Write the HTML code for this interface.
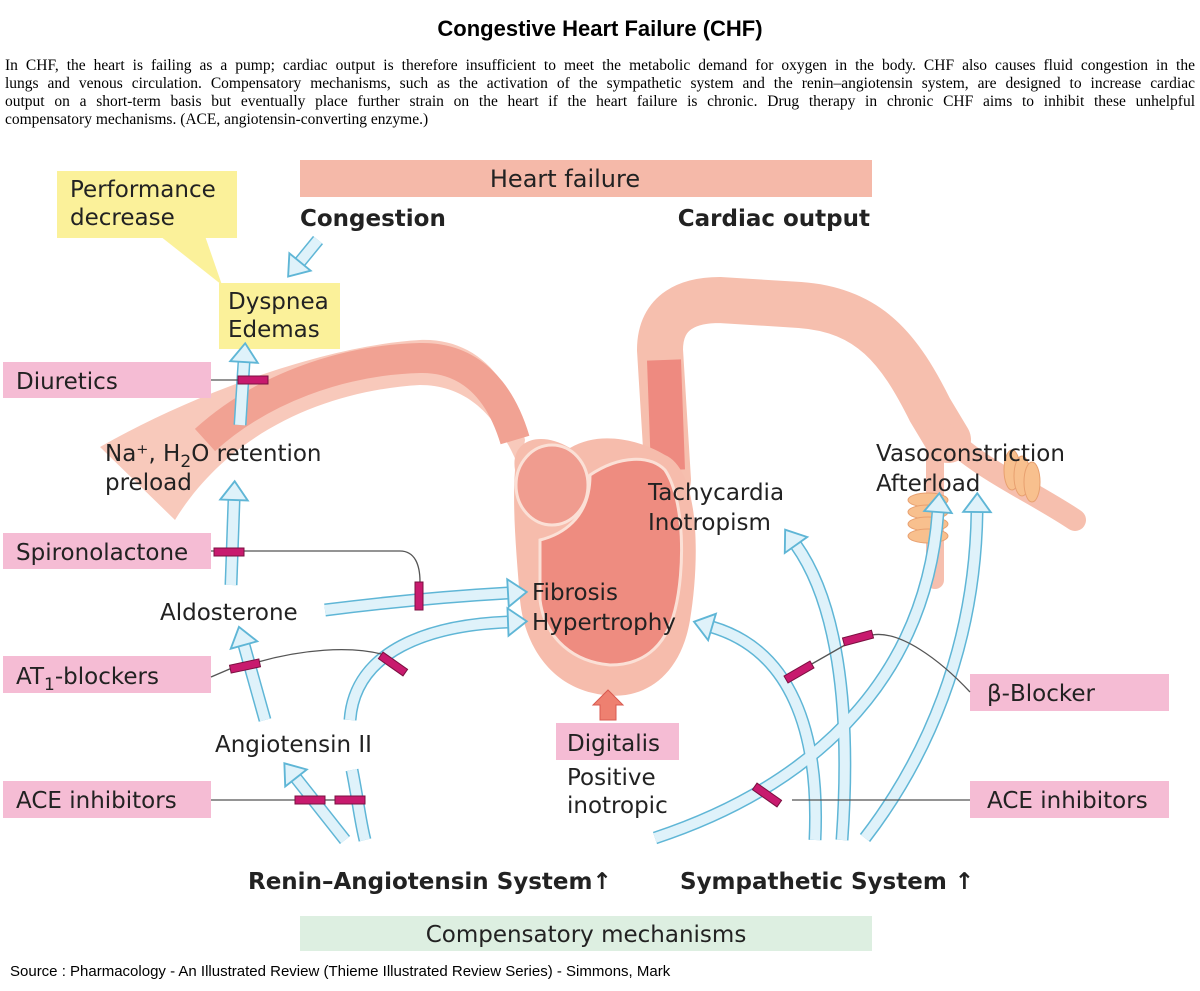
<!DOCTYPE html>
<html><head><meta charset="utf-8"><style>
body{margin:0;background:#fff;width:1200px;height:991px;overflow:hidden;position:relative}
h1{position:absolute;top:16px;left:0;width:1200px;text-align:center;margin:0;font:bold 22px "Liberation Sans",sans-serif}
div.d{position:absolute;top:57px;left:5px;width:1190px;margin:0;font:15.5px/18px "Liberation Serif",serif;white-space:nowrap}
div.d span{display:block;text-align:justify;text-align-last:justify}
div.d span.l{text-align-last:left}
.src{position:absolute;top:963px;left:10px;font:15px "Liberation Sans",sans-serif}
svg{position:absolute;top:0;left:0}
svg text{font-family:"DejaVu Sans","Liberation Sans",sans-serif;font-size:23px;fill:#222}
</style></head><body>
<h1>Congestive Heart Failure (CHF)</h1>
<div class="d"><span>In CHF, the heart is failing as a pump; cardiac output is therefore insufficient to meet the metabolic demand for oxygen in the body. CHF also causes fluid congestion in the</span><span>lungs and venous circulation. Compensatory mechanisms, such as the activation of the sympathetic system and the renin–angiotensin system, are designed to increase cardiac</span><span>output on a short-term basis but eventually place further strain on the heart if the heart failure is chronic. Drug therapy in chronic CHF aims to inhibit these unhelpful</span><span class="l">compensatory mechanisms. (ACE, angiotensin-converting enzyme.)</span></div>
<svg width="1200" height="991" viewBox="0 0 1200 991">
<defs>
<marker id="ah" markerUnits="userSpaceOnUse" markerWidth="30" markerHeight="30" refX="0" refY="0" orient="auto" viewBox="-2 -12 20 24" overflow="visible">
<path d="M0,-11 L15,0 L0,11 Z" fill="#dff2fa" stroke="#5fb6d6" stroke-width="1.5"/>
</marker>
</defs>
<rect x="300" y="160" width="572" height="37" fill="#f5b9a9"/>
<text x="565" y="187" text-anchor="middle" style="font-size:24px">Heart failure</text>
<text x="300" y="226" style="font-weight:bold;font-size:23px">Congestion</text>
<text x="870" y="226" text-anchor="end" style="font-weight:bold;font-size:23px">Cardiac output</text>
<polygon points="160,236 205,236 222,285" fill="#fbf19a"/>
<rect x="57" y="171" width="180" height="67" fill="#fbf19a"/>
<text x="70" y="197">Performance</text><text x="70" y="225">decrease</text>
<rect x="219" y="283" width="121" height="66" fill="#fbf19a"/>
<text x="228" y="309">Dyspnea</text><text x="228" y="337">Edemas</text>
<path d="M100,447 C200,390 330,345 420,340 C470,338 510,370 525,440 L520,470 C500,420 470,385 420,385 C330,390 230,430 175,520 Z" fill="#f8c9bb"/>
<path d="M205,440 C260,390 340,360 420,358 C470,357 500,390 515,440" fill="none" stroke="#f1a293" stroke-width="30"/>
<path d="M668,480 L660,350 C660,310 690,300 720,300 L800,305 C870,310 900,350 930,410 L948,440" fill="none" stroke="#f6bfae" stroke-width="46" stroke-linecap="round"/>
<path d="M940,430 C980,470 1030,490 1075,520" fill="none" stroke="#f6bfae" stroke-width="22" stroke-linecap="round"/>
<path d="M935,430 C935,480 935,540 935,580" fill="none" stroke="#f6bfae" stroke-width="18" stroke-linecap="round"/>
<path d="M668,470 L664,360" fill="none" stroke="#ee8a80" stroke-width="34"/>
<path d="M515,470 C510,440 540,430 570,448 C600,430 640,440 665,455 C700,470 700,560 690,620 C680,680 640,700 605,695 C555,690 525,650 520,600 C517,560 512,510 515,470 Z" fill="#f6bcac"/>
<ellipse cx="552" cy="485" rx="36" ry="40" fill="#f09c8f" stroke="#fbe0d6" stroke-width="3"/>
<path d="M590,475 C620,455 650,455 665,470 C685,500 685,570 675,610 C665,650 640,665 610,665 C575,662 545,640 540,600 L540,540 C560,535 590,520 590,475 Z" fill="#ee8c80" stroke="#fbe0d6" stroke-width="3"/>
<g fill="#f8c08e" stroke="#e8a070" stroke-width="1">
<ellipse cx="928" cy="500" rx="20" ry="7"/><ellipse cx="928" cy="512" rx="20" ry="7"/><ellipse cx="928" cy="524" rx="20" ry="7"/><ellipse cx="928" cy="536" rx="20" ry="7"/>
<ellipse cx="1012" cy="470" rx="8" ry="20"/><ellipse cx="1022" cy="476" rx="8" ry="20"/><ellipse cx="1032" cy="482" rx="8" ry="20"/>
</g>
<text x="105" y="461">Na⁺, H<tspan dy="6" style="font-size:17px">2</tspan><tspan dy="-6">O retention</tspan></text>
<text x="105" y="490">preload</text>
<text x="160" y="620">Aldosterone</text>
<text x="215" y="752">Angiotensin II</text>
<text x="532" y="600">Fibrosis</text><text x="532" y="630">Hypertrophy</text>
<text x="648" y="500">Tachycardia</text><text x="648" y="530">Inotropism</text>
<text x="876" y="461">Vasoconstriction</text><text x="876" y="491">Afterload</text>
<text x="567" y="785">Positive</text><text x="567" y="813">inotropic</text>
<g fill="#f5bcd4">
<rect x="3" y="362" width="208" height="36"/><rect x="3" y="533" width="208" height="36"/>
<rect x="3" y="656" width="208" height="37"/><rect x="3" y="781" width="208" height="37"/>
<rect x="970" y="674" width="199" height="37"/><rect x="970" y="781" width="199" height="37"/>
<rect x="556" y="723" width="123" height="37"/>
</g>
<text x="16" y="389">Diuretics</text><text x="16" y="560">Spironolactone</text>
<text x="16" y="684">AT<tspan dy="6" style="font-size:17px">1</tspan><tspan dy="-6">-blockers</tspan></text>
<text x="16" y="808">ACE inhibitors</text>
<text x="987" y="701">β-Blocker</text><text x="987" y="808">ACE inhibitors</text>
<text x="567" y="751">Digitalis</text>
<polygon points="600,720 600,705 593,705 608,690 623,705 616,705 616,720" fill="#ee8070" stroke="#d85a50"/>
<g fill="none" stroke-linecap="butt">
<g stroke="#5fb6d6" stroke-width="13">
<path d="M318,240 L300,262"/><path d="M240,425 L244,362"/><path d="M231,585 L234,500"/><path d="M265,720 L244,645"/>
<path d="M325,610 Q420,598 508,593"/><path d="M350,720 C355,650 430,625 508,622"/>
<path d="M345,840 L296,778"/><path d="M352,770 C358,800 360,820 365,840"/>
<path d="M815,840 C820,730 790,650 712,627"/><path d="M842,840 C852,700 835,600 796,545"/>
<path d="M655,838 C800,790 925,690 938,512"/><path d="M865,838 C925,760 975,650 977,512"/>
</g>
<g stroke="#dff2fa" stroke-width="10">
<path d="M318,240 L300,262" marker-end="url(#ah)"/><path d="M240,425 L244,362" marker-end="url(#ah)"/><path d="M231,585 L234,500" marker-end="url(#ah)"/><path d="M265,720 L244,645" marker-end="url(#ah)"/>
<path d="M325,610 Q420,598 508,593" marker-end="url(#ah)"/><path d="M350,720 C355,650 430,625 508,622" marker-end="url(#ah)"/>
<path d="M345,840 L296,778" marker-end="url(#ah)"/><path d="M352,770 C358,800 360,820 365,840"/>
<path d="M815,840 C820,730 790,650 712,627" marker-end="url(#ah)"/><path d="M842,840 C852,700 835,600 796,545" marker-end="url(#ah)"/>
<path d="M655,838 C800,790 925,690 938,512" marker-end="url(#ah)"/><path d="M865,838 C925,760 975,650 977,512" marker-end="url(#ah)"/>
</g>
</g>
<g fill="none" stroke="#555" stroke-width="1.3">
<path d="M211,380 L238,380"/><path d="M211,551 L400,551 C415,551 420,565 420,582"/>
<path d="M211,677 L232,668"/><path d="M258,662 C300,650 350,645 385,655"/>
<path d="M211,800 L296,800"/><path d="M324,800 L335,800"/>
<path d="M810,665 L845,645"/><path d="M872,635 C900,630 940,660 970,692"/>
<path d="M792,800 L970,800"/>
</g>
<g fill="#c81a6e" stroke="#7a1040" stroke-width="1">
<rect x="238" y="376" width="30" height="8"/><rect x="214" y="548" width="30" height="8"/>
<rect x="415" y="582" width="8" height="28"/>
<rect x="230" y="662" width="30" height="8" transform="rotate(-12 245 666)"/>
<rect x="378" y="660" width="30" height="8" transform="rotate(35 393 664)"/>
<rect x="295" y="796" width="30" height="8"/><rect x="335" y="796" width="30" height="8"/>
<rect x="784" y="668" width="30" height="8" transform="rotate(-30 799 672)"/>
<rect x="843" y="634" width="30" height="8" transform="rotate(-15 858 638)"/>
<rect x="752" y="791" width="30" height="8" transform="rotate(35 767 795)"/>
</g>
<text x="248" y="889" style="font-weight:bold;font-size:23px">Renin–Angiotensin System↑</text>
<text x="680" y="889" style="font-weight:bold;font-size:23px">Sympathetic System ↑</text>
<rect x="300" y="916" width="572" height="35" fill="#ddefe1"/>
<text x="586" y="942" text-anchor="middle">Compensatory mechanisms</text>
</svg>
<div class="src">Source : Pharmacology - An Illustrated Review (Thieme Illustrated Review Series) - Simmons, Mark</div>
</body></html>
